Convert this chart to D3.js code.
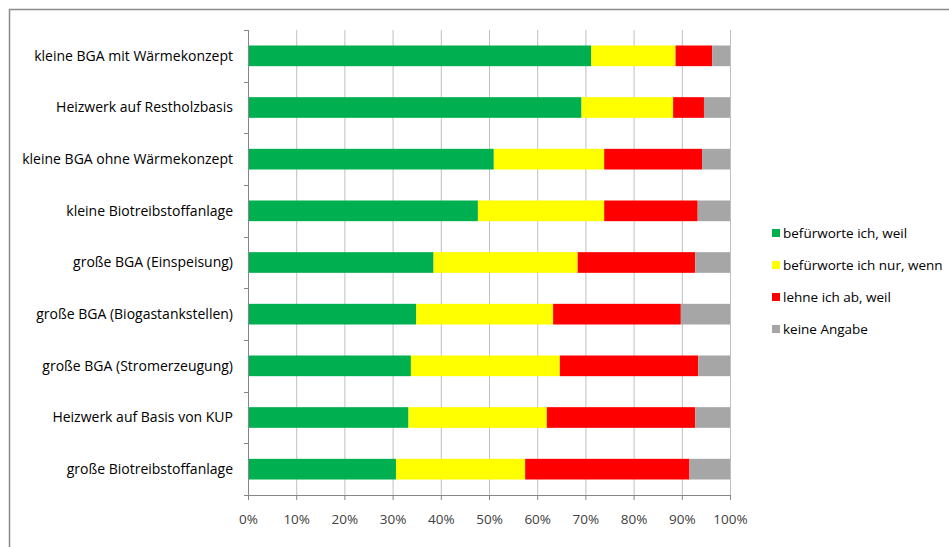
<!DOCTYPE html>
<html>
<head>
<meta charset="utf-8">
<script src="https://cdn.jsdelivr.net/npm/d3@7"></script>
<style>
  body { margin: 0; background: #fff; }
  svg text { font-family: "Open Sans", "DejaVu Sans", sans-serif; }
</style>
</head>
<body>
<div id="chart"></div>
<script>
// DATA
let categories = [
    "kleine BGA mit Wärmekonzept",
    "Heizwerk auf Restholzbasis",
    "kleine BGA ohne Wärmekonzept",
    "kleine Biotreibstoffanlage",
    "große BGA (Einspeisung)",
    "große BGA (Biogastankstellen)",
    "große BGA (Stromerzeugung)",
    "Heizwerk auf Basis von KUP",
    "große Biotreibstoffanlage"
];
let seriesNames = ["befürworte ich, weil", "befürworte ich nur, wenn", "lehne ich ab, weil", "keine Angabe"];
let befuerworte = [71.2, 69.2, 51.0, 47.7, 38.5, 34.9, 33.8, 33.3, 30.7];
let nurWenn     = [17.5, 19.0, 22.9, 26.2, 29.9, 28.4, 30.9, 28.7, 26.8];
let lehneAb     = [ 7.6,  6.4, 20.3, 19.4, 24.4, 26.5, 28.7, 30.8, 34.1];
let keineAngabe = [ 3.7,  5.4,  5.8,  6.7,  7.2, 10.2,  6.6,  7.2,  8.4];
let tickValues = [0, 10, 20, 30, 40, 50, 60, 70, 80, 90, 100];
let colors = ["#00B050", "#FFFF00", "#FF0000", "#A6A6A6"];

// CHART AREA
let W = 949, H = 547;
let margin = {top: 30, right: 219, bottom: 52, left: 248},
    width = W - margin.left - margin.right,
    height = H - margin.top - margin.bottom;

let root = d3.select("#chart").append("svg")
    .attr("width", W)
    .attr("height", H);

// outer frame (only top/left visible in the original)
root.append("rect")
    .attr("x", 9.5).attr("y", 9.5)
    .attr("width", W + 10).attr("height", H + 10)
    .attr("fill", "none")
    .attr("stroke", "#8c8c8c")
    .attr("stroke-width", 1.5);

let svg = root.append("g")
    .attr("transform", "translate(" + margin.left + "," + margin.top + ")");

// build table for stacking
let table = categories.map((c, i) => ({
    cat: c,
    s0: befuerworte[i], s1: nurWenn[i], s2: lehneAb[i], s3: keineAngabe[i]
}));
let keys = ["s0", "s1", "s2", "s3"];
let stacked = d3.stack().keys(keys)(table);

// SCALES
let x = d3.scaleLinear().domain([0, 100]).range([0, width]);
let y = d3.scaleBand().domain(categories).range([0, height]).paddingInner(0.6).paddingOuter(0.3);
let yEdges = d3.scaleLinear().domain([0, categories.length]).range([0, height]);

// GRID
svg.append("g").attr("class", "grid")
    .selectAll("line")
    .data(tickValues.slice(1))
    .enter().append("line")
    .attr("x1", d => x(d) + 0.5).attr("x2", d => x(d) + 0.5)
    .attr("y1", 0).attr("y2", height)
    .attr("stroke", "#bfbfbf")
    .attr("stroke-width", 1);

// BARS
svg.selectAll(".layer")
    .data(stacked)
    .enter().append("g")
    .attr("class", "layer")
    .attr("fill", (d, i) => colors[i])
    .selectAll("rect")
    .data(d => d)
    .enter().append("rect")
    .attr("x", d => x(d[0]))
    .attr("y", d => y(d.data.cat))
    .attr("width", d => x(d[1]) - x(d[0]))
    .attr("height", y.bandwidth());

// AXES
let xAxis = d3.axisBottom(x)
    .tickValues(tickValues)
    .tickFormat(d => d + "%")
    .tickSize(5)
    .tickPadding(14);

let xg = svg.append("g")
    .attr("transform", "translate(0," + height + ")")
    .call(xAxis);
xg.select(".domain").attr("stroke", "#868686");
xg.selectAll(".tick line").attr("stroke", "#868686");
xg.selectAll(".tick text")
    .attr("fill", "#404040")
    .style("font-size", "13.5px");

// left axis: line with ticks on category boundaries
let yg = svg.append("g");
yg.append("line")
    .attr("x1", 0.5).attr("x2", 0.5)
    .attr("y1", 0).attr("y2", height)
    .attr("stroke", "#868686");
yg.selectAll(".ytick")
    .data(d3.range(categories.length + 1))
    .enter().append("line")
    .attr("class", "ytick")
    .attr("x1", -4).attr("x2", 0)
    .attr("y1", d => Math.round(yEdges(d)) + 0.5)
    .attr("y2", d => Math.round(yEdges(d)) + 0.5)
    .attr("stroke", "#868686");
yg.selectAll(".ylabel")
    .data(categories)
    .enter().append("text")
    .attr("class", "ylabel")
    .attr("x", -15)
    .attr("y", d => y(d) + y.bandwidth() / 2)
    .attr("dy", "0.35em")
    .attr("text-anchor", "end")
    .attr("fill", "#000")
    .style("font-size", "14px")
    .text(d => d);

// LEGEND
let legend = root.append("g")
    .attr("transform", "translate(772,233)");
let items = legend.selectAll(".item")
    .data(seriesNames)
    .enter().append("g")
    .attr("class", "item")
    .attr("transform", (d, i) => "translate(0," + (i * 32) + ")");
items.append("rect")
    .attr("x", 0).attr("y", -4)
    .attr("width", 8).attr("height", 8)
    .attr("fill", (d, i) => colors[i]);
items.append("text")
    .attr("x", 11)
    .attr("y", 0)
    .attr("dy", "0.35em")
    .attr("fill", "#000")
    .style("font-size", "13.5px")
    .text(d => d);
</script>
</body>
</html>
